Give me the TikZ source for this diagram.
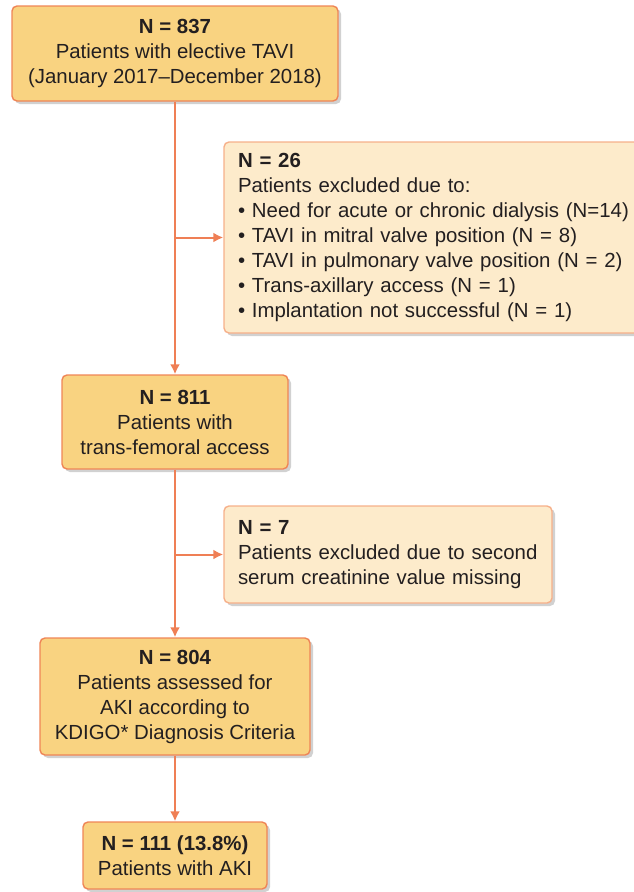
\documentclass[tikz,border=0pt]{standalone}
\usepackage{fontspec}
\setmainfont{Liberation Sans}
\usetikzlibrary{arrows.meta,shadows}
\definecolor{flowfill}{HTML}{F9D381}
\definecolor{flowedge}{HTML}{EF8556}
\definecolor{exfill}{HTML}{FDEBCB}
\definecolor{exedge}{HTML}{F6B08A}
\definecolor{flowline}{HTML}{EF7F55}
\definecolor{flowtext}{HTML}{231F20}

\begin{document}
\begin{tikzpicture}[x=1pt,y=-1pt,
  every node/.style={font=\fontsize{20.4}{25}\selectfont, text=flowtext},
  mainbox/.style={draw=flowedge, line width=1.4pt, fill=flowfill, rounded corners=5pt,
    align=center, inner sep=0pt,
    drop shadow={shadow xshift=3pt, shadow yshift=-3pt, fill=black!40, opacity=.45}},
  exbox/.style={draw=exedge, line width=1.4pt, fill=exfill, rounded corners=5pt,
    align=left, inner xsep=14pt, inner ysep=0pt,
    drop shadow={shadow xshift=3pt, shadow yshift=-3pt, fill=black!40, opacity=.45}},
  arr/.style={draw=flowline, line width=2pt, -{Latex[length=10pt,width=10pt]}}]
\useasboundingbox (0,0) rectangle (633,892);

% Main column
\node[mainbox, minimum width=326pt, minimum height=95pt] (all) at (175,53.5)
  {\textbf{N = 837}\\Patients with elective TAVI\\(January 2017--December 2018)};
\node[mainbox, minimum width=226pt, minimum height=94pt] (femoral) at (175,422)
  {\textbf{N = 811}\\Patients with\\trans-femoral access};
\node[mainbox, minimum width=270pt, minimum height=117pt] (assessed) at (175,696.5)
  {\textbf{N = 804}\\Patients assessed for\\AKI according to\\KDIGO* Diagnosis Criteria};
\node[mainbox, minimum width=184pt, minimum height=67pt] (aki) at (175,855.5)
  {\textbf{N = 111 (13.8\%)}\\Patients with AKI};

% Exclusions
\node[exbox, text width=408pt, minimum height=191pt] (excl1) at (442,237.5)
  {\textbf{N = 26}\\Patients excluded due to:\\%
   • Need for acute or chronic dialysis (N=14)\\%
   • TAVI in mitral valve position (N = 8)\\%
   • TAVI in pulmonary valve position (N = 2)\\%
   • Trans-axillary access (N = 1)\\%
   • Implantation not successful (N = 1)};
\node[exbox, text width=300pt, minimum height=97pt] (excl2) at (388,554.5)
  {\textbf{N = 7}\\Patients excluded due to second\\serum creatinine value missing};

% Connectors
\coordinate (split1) at (175,237.5);
\coordinate (split2) at (175,554.5);
\draw[arr] (all) -- (femoral);
\draw[arr] (split1) -- (excl1);
\draw[arr] (femoral) -- (assessed);
\draw[arr] (split2) -- (excl2);
\draw[arr] (assessed) -- (aki);
\end{tikzpicture}
\end{document}
